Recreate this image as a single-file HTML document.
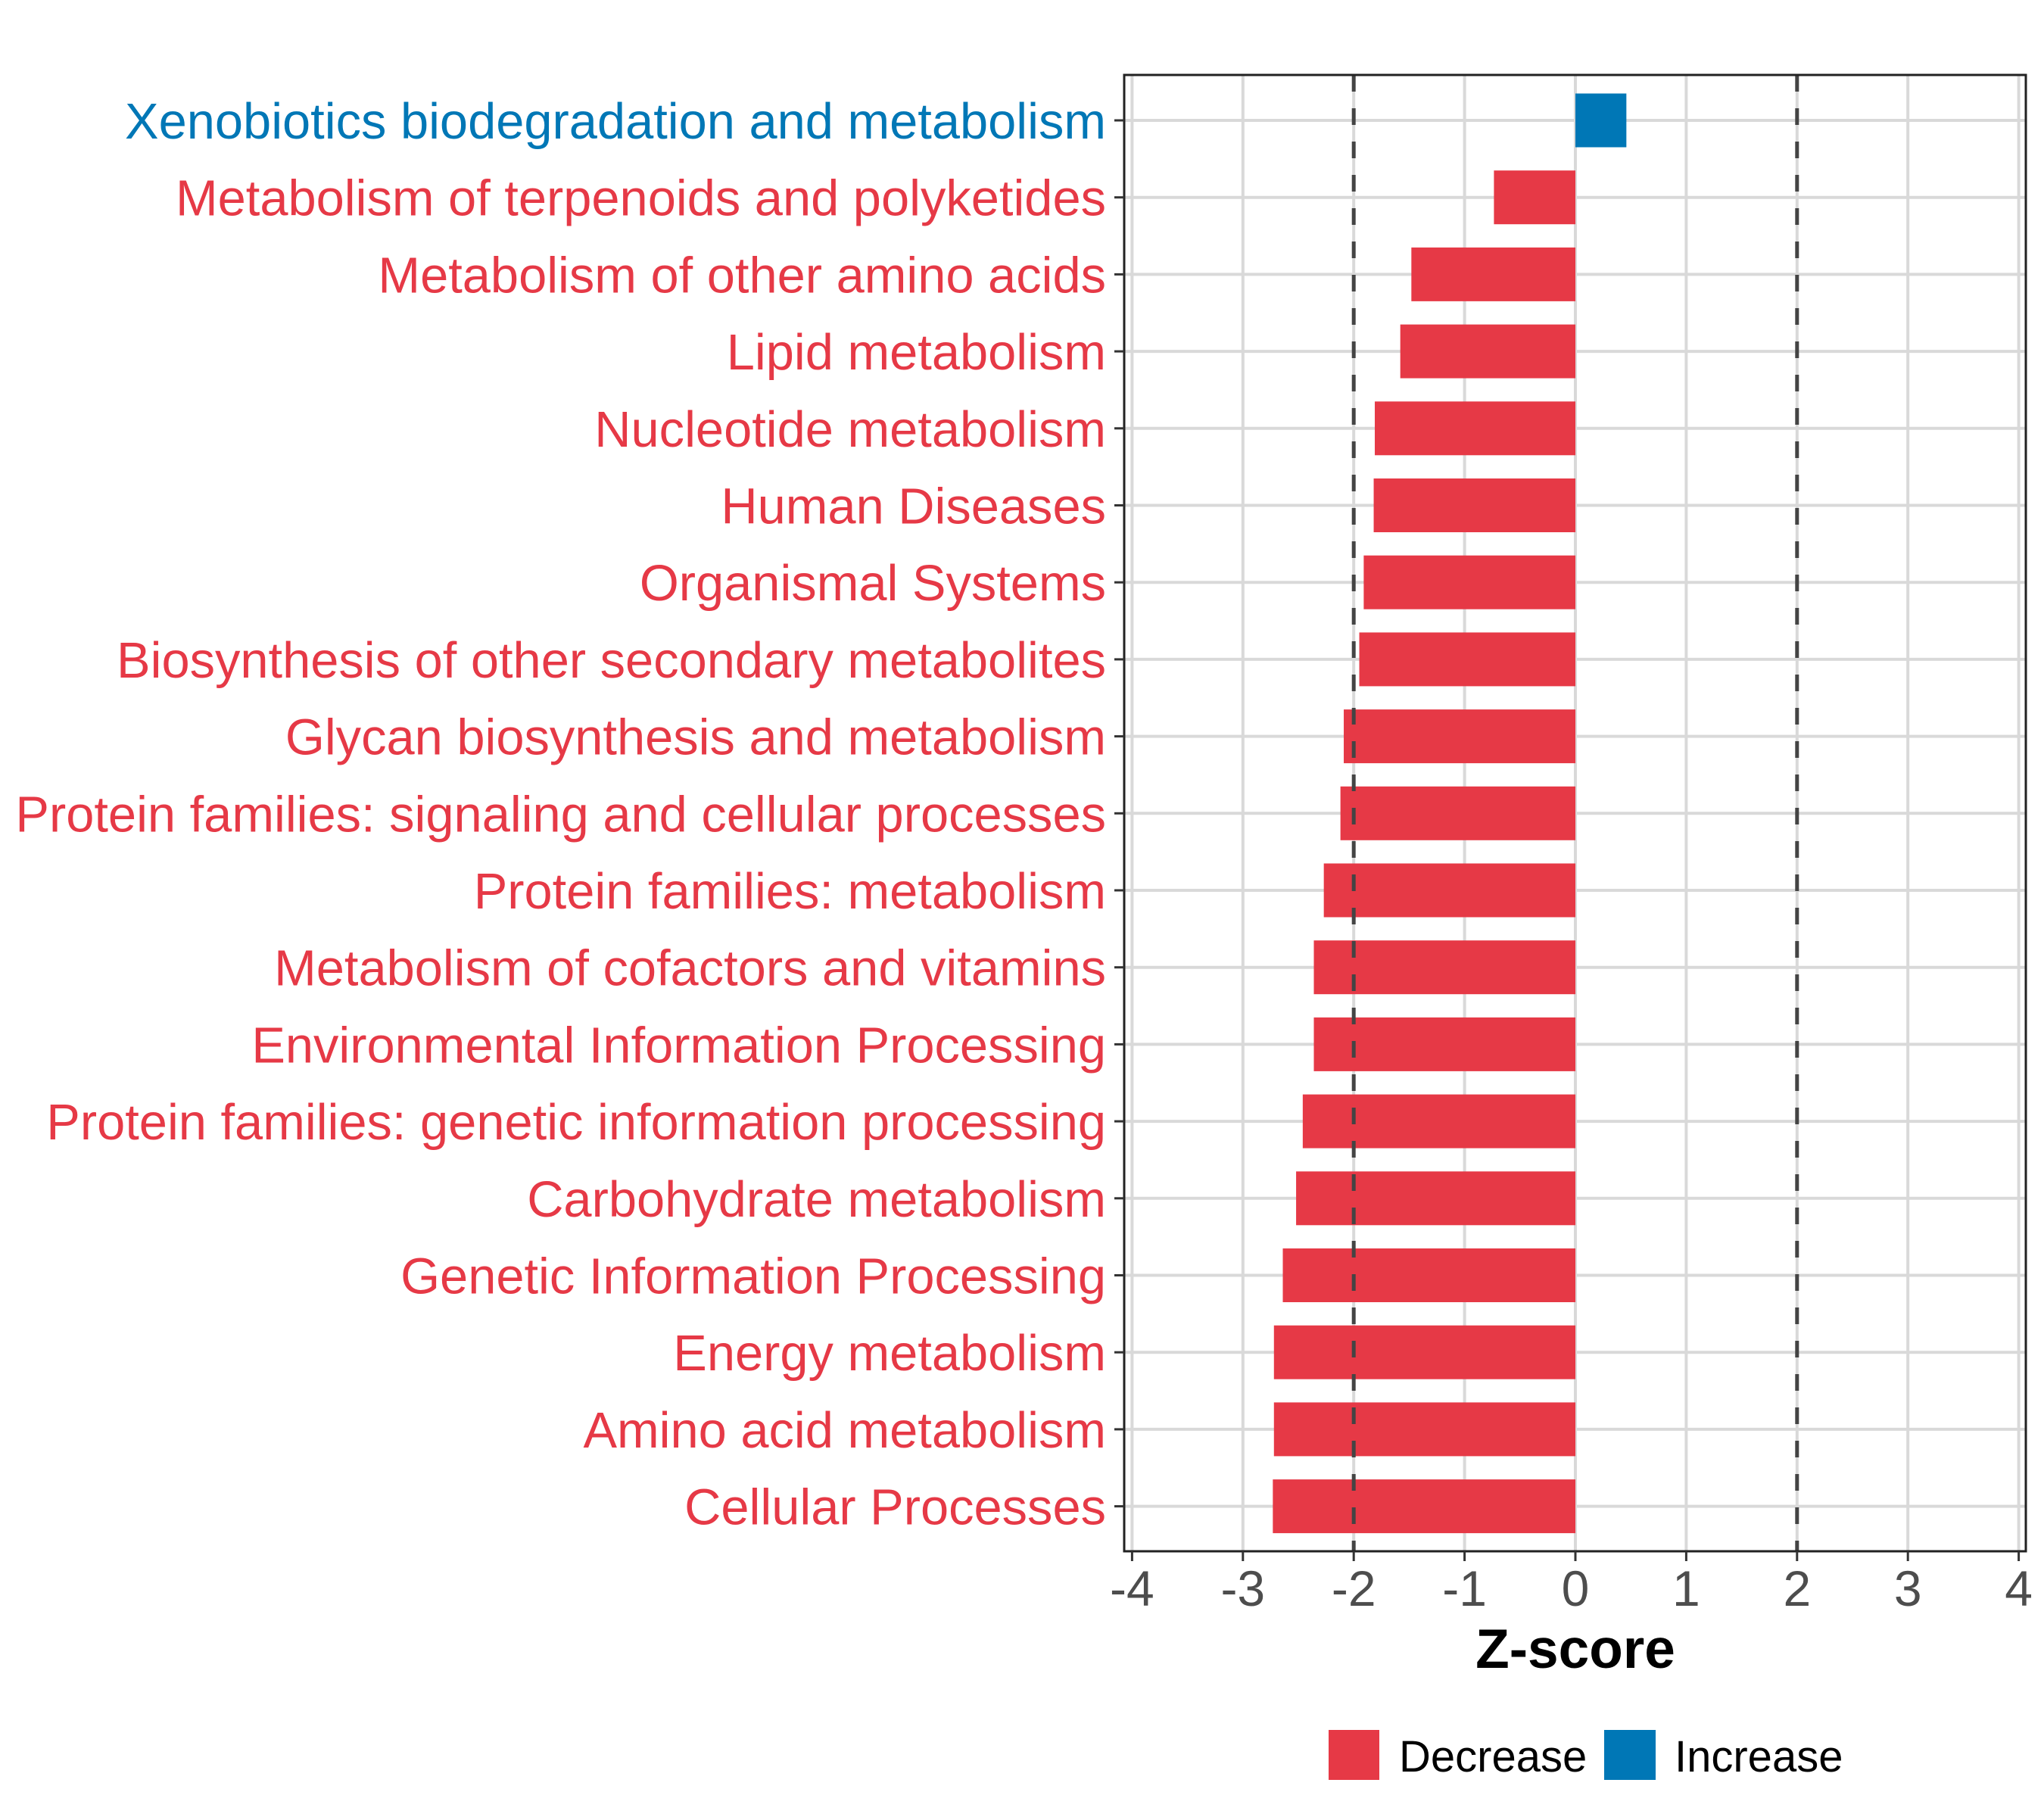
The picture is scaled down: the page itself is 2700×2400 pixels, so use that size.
<!DOCTYPE html>
<html><head><meta charset="utf-8"><style>
html,body{margin:0;padding:0;background:#fff;}
svg{display:block;font-family:"Liberation Sans",Arial,sans-serif;}
</style></head><body>
<svg id="chart" width="2700" height="2400" viewBox="0 0 2700 2400" xmlns="http://www.w3.org/2000/svg">
<rect width="2700" height="2400" fill="#fff"/>
<g id="grid"></g>
<g id="bars"></g>
<g id="refs"></g>
<rect x="1485" y="99" width="1191" height="1950" fill="none" stroke="#222" stroke-width="3"/>
<g id="ylabels"></g>
<g id="xticks"></g>
<text x="2081" y="2203" font-size="73" font-weight="bold" text-anchor="middle" fill="#000">Z-score</text>
<g>
<rect x="1755" y="2285" width="67" height="66" fill="#E63946"/>
<text x="1848" y="2340" font-size="58" fill="#000">Decrease</text>
<rect x="2119" y="2285" width="68" height="66" fill="#0077B6"/>
<text x="2212" y="2340" font-size="58" fill="#000">Increase</text>
</g>
</svg>
<script>
const categories = ["Xenobiotics biodegradation and metabolism","Metabolism of terpenoids and polyketides","Metabolism of other amino acids","Lipid metabolism","Nucleotide metabolism","Human Diseases","Organismal Systems","Biosynthesis of other secondary metabolites","Glycan biosynthesis and metabolism","Protein families: signaling and cellular processes","Protein families: metabolism","Metabolism of cofactors and vitamins","Environmental Information Processing","Protein families: genetic information processing","Carbohydrate metabolism","Genetic Information Processing","Energy metabolism","Amino acid metabolism","Cellular Processes"];
const zscores = [0.46,-0.735,-1.48,-1.58,-1.81,-1.82,-1.91,-1.95,-2.09,-2.12,-2.27,-2.36,-2.36,-2.46,-2.52,-2.64,-2.72,-2.72,-2.73];
const xTicks = [-4,-3,-2,-1,0,1,2,3,4];
const xTickLabels = ["-4","-3","-2","-1","0","1","2","3","4"];
const refLines = [-2,2];

const NS="http://www.w3.org/2000/svg";
const X0=2081, UNIT=146.4, ROW0=159, ROWSTEP=101.7, BARH=71;
const PTOP=99, PBOT=2049, PLEFT=1485, PRIGHT=2676;
const xs=v=>X0+v*UNIT;
const ys=i=>ROW0+i*ROWSTEP;
function mk(tag,attrs,parent){const e=document.createElementNS(NS,tag);for(const k in attrs)e.setAttribute(k,attrs[k]);parent.appendChild(e);return e;}
const grid=document.getElementById('grid'),bars=document.getElementById('bars'),refs=document.getElementById('refs'),yl=document.getElementById('ylabels'),xt=document.getElementById('xticks');
xTicks.forEach((t,i)=>{
  const l=mk('line',{x1:xs(t),x2:xs(t),y1:PTOP,y2:PBOT,stroke:'#d9d9d9','stroke-width':4},grid);
  
  
  const tk=mk('line',{x1:xs(t),x2:xs(t),y1:PBOT,y2:PBOT+13,stroke:'#333','stroke-width':3},xt);
  
  
  const tx=mk('text',{x:xs(t),y:2121,'font-size':66,'text-anchor':'middle',fill:'#4d4d4d'},xt);
  tx.textContent=xTickLabels[i];
  
  
});
categories.forEach((c,i)=>{
  const y=ys(i), v=zscores[i], col=v>=0?'#0077B6':'#E63946';
  const g=mk('line',{x1:PLEFT,x2:PRIGHT,y1:y,y2:y,stroke:'#d9d9d9','stroke-width':4},grid);
  
  
  const r=mk('rect',{x:Math.min(xs(0),xs(v)),y:y-BARH/2,width:Math.abs(xs(v)-xs(0)),height:BARH,fill:col},bars);
  
  
  const tk=mk('line',{x1:PLEFT-13,x2:PLEFT,y1:y,y2:y,stroke:'#333','stroke-width':3},yl);
  
  
  const t=mk('text',{x:1461,y:y+24,'font-size':66.8,'text-anchor':'end',fill:col},yl);
  t.textContent=c;
  
  
});
refLines.forEach(v=>{
  const l=mk('line',{x1:xs(v),x2:xs(v),y1:PTOP,y2:PBOT,stroke:'#444','stroke-width':5,'stroke-dasharray':'22 22'},refs);
  
  
});
</script>
</body></html>
